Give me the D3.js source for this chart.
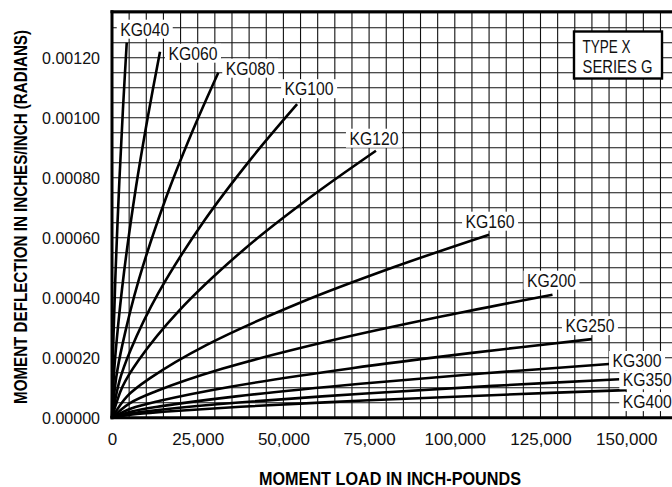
<!DOCTYPE html>
<html>
<head>
<meta charset="utf-8">
<script src="https://cdn.jsdelivr.net/npm/d3@7"></script>
<style>
  body { margin: 0; background: #fff; }
  text { font-family: "Liberation Sans", Arial, sans-serif; }
</style>
</head>
<body>
<div id="chart"></div>
<script>
// Series names
var series = ["KG040", "KG060", "KG080", "KG100", "KG120", "KG160",
              "KG200", "KG250", "KG300", "KG350", "KG400"];

// Moment load (inch-pounds)
var loads = [
  [0, 170, 430, 1100, 2150, 3200, 4300],
  [0, 560, 1400, 3500, 7000, 10500, 14000],
  [0, 1240, 3100, 7750, 15500, 23250, 31000],
  [0, 2160, 5400, 13500, 27000, 40500, 54000],
  [0, 3080, 7700, 19250, 38500, 57750, 77000],
  [0, 4400, 11000, 27500, 55000, 82500, 110000],
  [0, 5140, 12850, 32100, 64250, 96400, 128500],
  [0, 5600, 14000, 35000, 70000, 105000, 140000],
  [0, 5800, 14500, 36250, 72500, 108750, 145000],
  [0, 5920, 14800, 37000, 74000, 111000, 148000],
  [0, 6000, 15000, 37500, 75000, 112500, 150000]
];

// Moment deflection (radians)
var deflections = [
  [0, 0.000146, 0.00027, 0.000504, 0.00079, 0.00103, 0.00125],
  [0, 0.000143, 0.000262, 0.000484, 0.000769, 0.001006, 0.00122],
  [0, 0.000135, 0.000247, 0.000457, 0.000725, 0.000949, 0.00115],
  [0, 0.000122, 0.000225, 0.000415, 0.000658, 0.000862, 0.001045],
  [0, 0.000104, 0.000191, 0.000353, 0.000561, 0.000734, 0.00089],
  [0, 0.0000714, 0.000131, 0.000242, 0.000384, 0.000503, 0.00061],
  [0, 0.000048, 0.0000882, 0.000163, 0.000258, 0.000338, 0.00041],
  [0, 0.0000307, 0.0000563, 0.000104, 0.000165, 0.000216, 0.000262],
  [0, 0.0000209, 0.0000385, 0.0000711, 0.000113, 0.000148, 0.000179],
  [0, 0.000015, 0.0000275, 0.0000508, 0.0000806, 0.000106, 0.000128],
  [0, 0.0000108, 0.0000198, 0.0000365, 0.000058, 0.0000759, 0.000092]
];

// Tick labels
var xTicks = [0, 25000, 50000, 75000, 100000, 125000, 150000];
var yTicks = [0, 0.0002, 0.0004, 0.0006, 0.0008, 0.0010, 0.0012];

// label placement (pixel offset of text centre / baseline from the curve end)
var labelOffsets = [
  [18, -7], [33, 8], [32, 2], [12, -9], [-2, -6], [1, -7],
  [-1, -8], [-2, -7], [28, 3], [28, 7], [21, 18]
];

var w = 672, h = 487;
var plotLeft = 112, plotBottom = 417.7, plotTop = 12.7;

var svg = d3.select("#chart").append("svg")
  .attr("width", w).attr("height", h);

var xScale = d3.scaleLinear()
  .domain([0, 165000])
  .range([plotLeft, plotLeft + 165 * 3.428]);

var yScale = d3.scaleLinear()
  .domain([0, 0.00135])
  .range([plotBottom, plotTop]);

// grid
var grid = svg.append("g").attr("stroke", "#111").attr("stroke-width", 1.1);
d3.range(0, 166000, 5000).forEach(function (v) {
  grid.append("line")
    .attr("x1", xScale(v)).attr("x2", xScale(v))
    .attr("y1", yScale(0)).attr("y2", yScale(0.00135));
});
d3.range(0, 28).forEach(function (i) {
  var v = i * 0.00005;
  grid.append("line")
    .attr("x1", xScale(0)).attr("x2", w)
    .attr("y1", yScale(v)).attr("y2", yScale(v));
});

// curves
var line = d3.line()
  .x(function (d) { return xScale(d[0]); })
  .y(function (d) { return yScale(d[1]); })
  .curve(d3.curveCatmullRom.alpha(0.5));

series.forEach(function (name, i) {
  var pts = loads[i].map(function (m, j) { return [m, deflections[i][j]]; });
  svg.append("path")
    .datum(pts)
    .attr("fill", "none")
    .attr("stroke", "#000")
    .attr("stroke-width", 2.6)
    .attr("stroke-linejoin", "round")
    .attr("d", line);
});

// curve labels
series.forEach(function (name, i) {
  var n = loads[i].length - 1;
  var cx = xScale(loads[i][n]) + labelOffsets[i][0];
  var by = yScale(deflections[i][n]) + labelOffsets[i][1];
  var g = svg.append("g");
  g.append("rect")
    .attr("x", cx - 28).attr("y", by - 16)
    .attr("width", 56).attr("height", 19)
    .attr("fill", "#fff");
  g.append("text")
    .attr("x", cx).attr("y", by)
    .attr("text-anchor", "middle")
    .attr("textLength", 49).attr("lengthAdjust", "spacingAndGlyphs")
    .style("font-size", "17.5px")
    .attr("fill", "#111")
    .text(name);
});

// frame
svg.append("line").attr("x1", plotLeft - 1.5).attr("x2", w)
  .attr("y1", plotTop - 1).attr("y2", plotTop - 1)
  .attr("stroke", "#000").attr("stroke-width", 3);
svg.append("line").attr("x1", plotLeft).attr("x2", plotLeft)
  .attr("y1", plotTop - 2.5).attr("y2", plotBottom + 1.5)
  .attr("stroke", "#000").attr("stroke-width", 3);
svg.append("line").attr("x1", plotLeft - 1.5).attr("x2", w)
  .attr("y1", plotBottom).attr("y2", plotBottom)
  .attr("stroke", "#000").attr("stroke-width", 3);

// type box
svg.append("rect")
  .attr("x", 574).attr("y", 31.5).attr("width", 88).attr("height", 47)
  .attr("fill", "#fff").attr("stroke", "#000").attr("stroke-width", 2.4);
svg.append("text").attr("x", 582.5).attr("y", 52.5)
  .attr("textLength", 48).attr("lengthAdjust", "spacingAndGlyphs")
  .style("font-size", "17.5px").attr("fill", "#111").text("TYPE X");
svg.append("text").attr("x", 582.5).attr("y", 72.5)
  .attr("textLength", 70).attr("lengthAdjust", "spacingAndGlyphs")
  .style("font-size", "17.5px").attr("fill", "#111").text("SERIES G");

// x axis
var xAxis = svg.append("g")
  .attr("transform", "translate(0," + plotBottom + ")")
  .call(d3.axisBottom(xScale).tickValues(xTicks).tickSize(0)
    .tickPadding(15).tickFormat(d3.format(",")));
xAxis.select(".domain").remove();
xAxis.selectAll("text")
  .style("font-size", "17px").attr("fill", "#111")
  .style("font-family", "'Liberation Sans', Arial, sans-serif");

// y axis
var yAxis = svg.append("g")
  .attr("transform", "translate(" + (plotLeft - 12) + ",0)")
  .call(d3.axisLeft(yScale).tickValues(yTicks).tickSize(0)
    .tickPadding(0).tickFormat(d3.format(".5f")));
yAxis.select(".domain").remove();
yAxis.selectAll("text")
  .attr("textLength", 58).attr("lengthAdjust", "spacingAndGlyphs")
  .style("font-size", "17px").attr("fill", "#111")
  .style("font-family", "'Liberation Sans', Arial, sans-serif");

// axis titles
svg.append("text")
  .attr("x", 390).attr("y", 485)
  .attr("text-anchor", "middle")
  .attr("textLength", 262).attr("lengthAdjust", "spacingAndGlyphs")
  .style("font-size", "19px").style("font-weight", "bold")
  .text("MOMENT LOAD IN INCH-POUNDS");

svg.append("text")
  .attr("transform", "translate(27,217) rotate(-90)")
  .attr("text-anchor", "middle")
  .attr("textLength", 374).attr("lengthAdjust", "spacingAndGlyphs")
  .style("font-size", "19px").style("font-weight", "bold")
  .text("MOMENT DEFLECTION IN INCHES/INCH (RADIANS)");
</script>
</body>
</html>
